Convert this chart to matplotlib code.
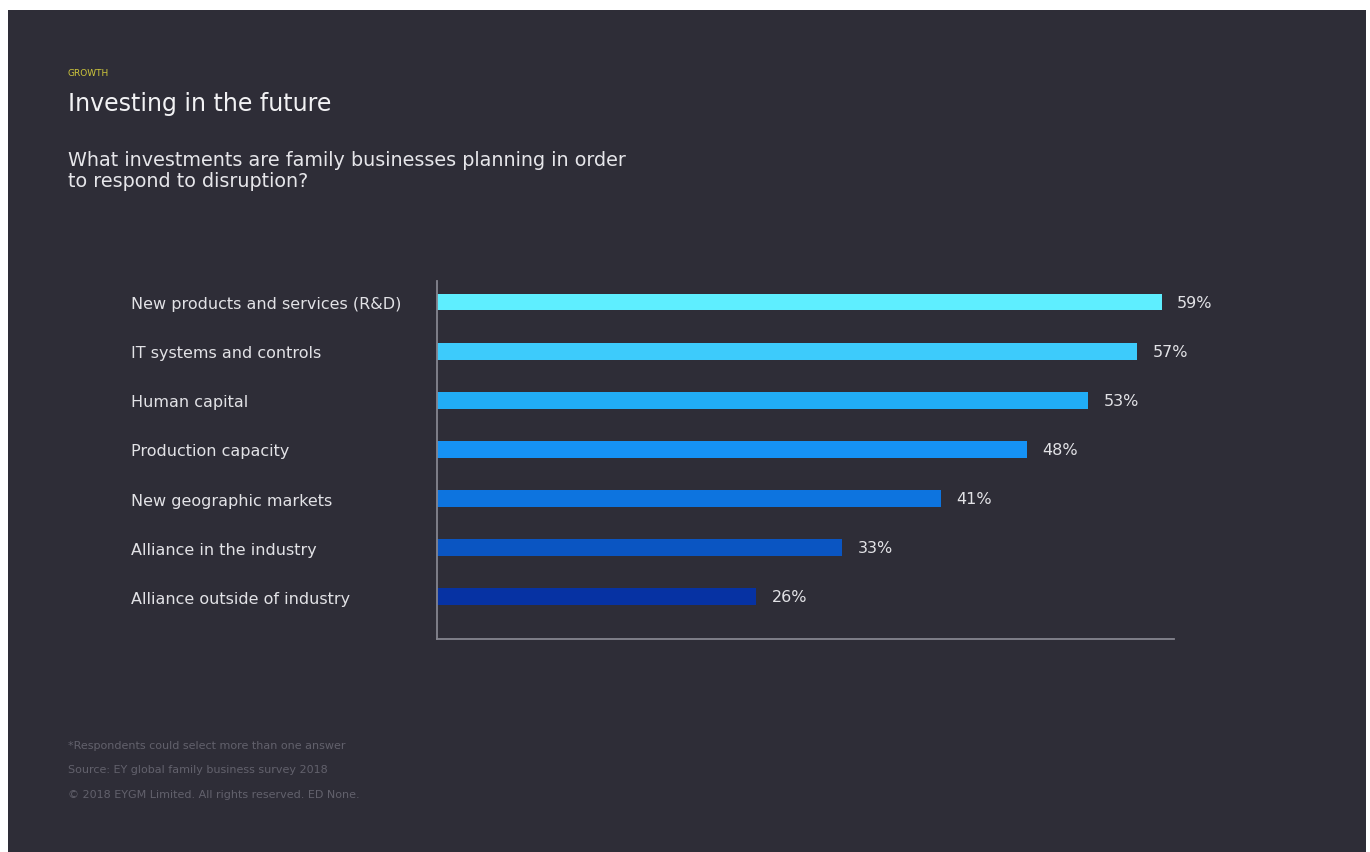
import matplotlib
matplotlib.use("Agg")
import matplotlib.pyplot as plt
from matplotlib.patches import Rectangle

# data
categories = ["New products and services (R&D)", "IT systems and controls", "Human capital",
              "Production capacity", "New geographic markets", "Alliance in the industry",
              "Alliance outside of industry"]
values = [59, 57, 53, 48, 41, 33, 26]
bar_colors = ["#5EEEFF", "#3DCBFB", "#21ADF6", "#1592F5", "#0D74DF", "#0A55C2", "#0632A3"]

bg = "#2E2D37"
plt.rcParams['font.family'] = ['DejaVu Sans']

fig = plt.figure(figsize=(13.7, 8.53), dpi=100, facecolor="white")
fig.patches.append(Rectangle((8/1370, 0), (1366-8)/1370, 1-11/853, transform=fig.transFigure,
                             facecolor=bg, edgecolor="none", zorder=-10))

ax = fig.add_axes([437/1370, 1-640/853, (1174-437)/1370, (640-282)/853])
ax.set_facecolor("none")

ypos = list(range(len(categories)))
ax.barh(ypos, values, height=0.34, color=bar_colors, zorder=2)
ax.set_ylim(len(categories) - 1 + 0.86, -0.43)
ax.set_xlim(0, 60)

for y, v in zip(ypos, values):
    ax.annotate(f"{v}%", (v, y), xytext=(11, 0), textcoords="offset points",
                va="center", ha="left", color="#E2E2E6", fontsize=11.5)

ax.set_yticks(ypos)
ax.set_yticklabels(categories, ha="left", color="#E2E2E6", fontsize=11.5)
ax.tick_params(axis="y", length=0, pad=220)
ax.set_xticks([])
for s in ["top", "right"]:
    ax.spines[s].set_visible(False)
for s in ["left", "bottom"]:
    ax.spines[s].set_color("#85858F")
    ax.spines[s].set_linewidth(1.3)

# titles
fig.text(68/1370, 1-74/853, "GROWTH", color="#CFC73C", fontsize=6.5, va="center")
fig.text(68/1370, 1-104/853, "Investing in the future", color="#F2F2F4", fontsize=17, va="center")
fig.text(68/1370, 1-171/853, "What investments are family businesses planning in order\nto respond to disruption?",
         color="#E6E6EA", fontsize=13.8, va="center", linespacing=1.1)

# footnotes
foot = ["*Respondents could select more than one answer",
        "Source: EY global family business survey 2018",
        "\u00a9 2018 EYGM Limited. All rights reserved. ED None."]
for i, t in enumerate(foot):
    fig.text(68/1370, 1-(746 + 24.5*i)/853, t, color="#62616C", fontsize=8, va="center")

fig.savefig("out.png", dpi=100, facecolor=fig.get_facecolor())
